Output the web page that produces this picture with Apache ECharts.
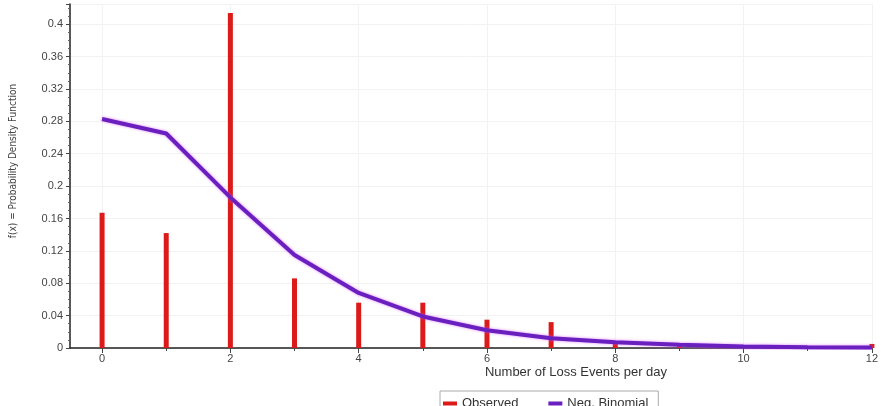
<!DOCTYPE html>
<html>
<head>
<meta charset="utf-8">
<script src="https://cdn.jsdelivr.net/npm/echarts@6/dist/echarts.min.js"></script>
<style>
  html, body { margin: 0; padding: 0; background: #fff; }
  #chart { width: 881px; height: 406px; }
</style>
</head>
<body>
<div id="chart"></div>
<script>
// number of loss events per day
var events = [0, 1, 2, 3, 4, 5, 6, 7, 8, 9, 10, 11, 12];
// observed frequencies
var observed = [0.167, 0.142, 0.414, 0.086, 0.056, 0.056, 0.035, 0.032, 0.008, 0.005, 0, 0, 0.005];
// fitted negative binomial pdf
var negBinomial = [0.283, 0.265, 0.186, 0.115, 0.068, 0.039, 0.022, 0.012, 0.007, 0.004, 0.002, 0.001, 0.0005];
var xLabels = [0, 2, 4, 6, 8, 10, 12];

var chart = echarts.init(document.getElementById("chart"));

var option = {
  animation: false,
  textStyle: { fontFamily: "Liberation Sans, Arial, sans-serif" },
  grid: { left: 68, right: 2, top: 4, bottom: 58 },
  legend: {
    bottom: -12,
    left: 440,
    icon: "rect",
    itemWidth: 14,
    itemHeight: 4,
    itemGap: 30,
    padding: [6, 10, 8, 3],
    borderColor: "#aaa",
    borderWidth: 1,
    textStyle: { color: "#333", fontSize: 13 },
    data: ["Observed", "Neg. Binomial"]
  },
  xAxis: [
    {
      type: "value",
      min: -0.5,
      max: 12,
      interval: 0.5,
      axisLine: { show: true, onZero: false, lineStyle: { color: "#222", width: 1.5 } },
      axisTick: { show: true, customValues: events, length: 3, lineStyle: { color: "#444" } },
      axisLabel: { show: false },
      splitLine: { show: false }
    },
    {
      type: "value",
      position: "bottom",
      min: -0.5,
      max: 12,
      interval: 0.5,
      name: "Number of Loss Events per day",
      nameLocation: "middle",
      nameGap: 18,
      nameMoveOverlap: false,
      nameTextStyle: { color: "#333", fontSize: 13, align: "left", padding: [0, 0, 0, 14] },
      axisLine: { show: false, onZero: false },
      axisTick: { show: true, customValues: xLabels, length: 5, lineStyle: { color: "#444" } },
      axisLabel: { customValues: xLabels, color: "#444", fontSize: 11, margin: 5 },
      splitLine: { show: true, lineStyle: { color: "#f2f2f2" } }
    }
  ],
  yAxis: {
    type: "value",
    min: 0,
    max: 0.425,
    interval: 0.04,
    name: "f(x) = Probability Density Function",
    nameLocation: "middle",
    nameGap: 52,
    nameMoveOverlap: false,
    nameTextStyle: {
      color: "#444",
      fontSize: 10,
      fontFamily: "Liberation Sans Narrow, DejaVu Sans Condensed, sans-serif",
      padding: [0, 0, 0, 30]
    },
    axisLine: { show: true, onZero: false, lineStyle: { color: "#222", width: 1.5 } },
    axisTick: { show: true, length: 4, lineStyle: { color: "#444" } },
    minorTick: { show: true, splitNumber: 4, length: 2, lineStyle: { color: "#666" } },
    axisLabel: { color: "#444", fontSize: 11, margin: 7, showMaxLabel: false },
    splitLine: { show: true, lineStyle: { color: "#f2f2f2" } }
  },
  series: [
    {
      name: "Observed",
      type: "bar",
      xAxisIndex: 0,
      barWidth: 5,
      itemStyle: { color: "#dd1a1a" },
      data: events.map(function (x, i) { return [x, observed[i]]; })
    },
    {
      name: "Neg. Binomial",
      type: "line",
      xAxisIndex: 0,
      showSymbol: false,
      itemStyle: { color: "#6a1fbf" },
      lineStyle: { color: "#6a1fbf", width: 4, shadowColor: "rgba(210,80,255,0.7)", shadowBlur: 3 },
      data: events.map(function (x, i) { return [x, negBinomial[i]]; })
    }
  ]
};

chart.setOption(option);
</script>
</body>
</html>
